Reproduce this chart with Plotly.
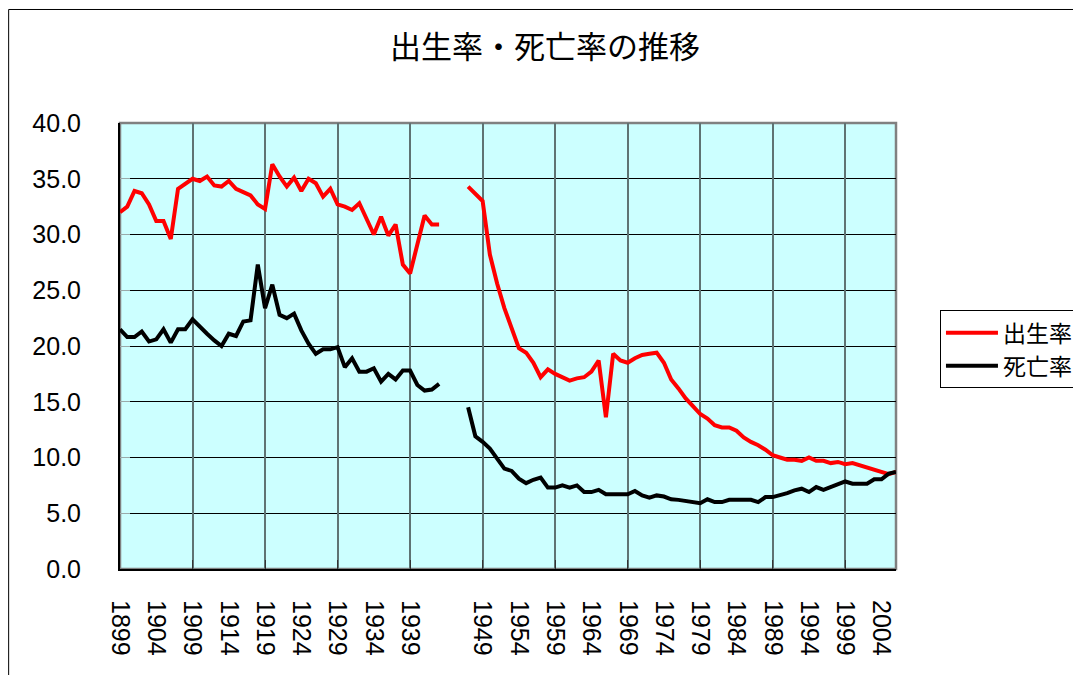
import plotly.graph_objects as go

years = list(range(1899, 2007))

birth_rate = [
    32.0, 32.5, 33.9, 33.7, 32.7, 31.2, 31.2, 29.6, 34.1, 34.6,   # 1899-1908
    35.0, 34.8, 35.2, 34.4, 34.3, 34.8, 34.1, 33.8, 33.5, 32.7,   # 1909-1918
    32.3, 36.3, 35.2, 34.3, 35.1, 33.9, 35.0, 34.6, 33.4, 34.1,   # 1919-1928
    32.7, 32.5, 32.2, 32.8, 31.4, 30.0, 31.6, 29.9, 30.9, 27.3,   # 1929-1938
    26.5, 29.1, 31.7, 30.9, 30.9, None, None, None, 34.3, 33.7,   # 1939-1948
    33.0, 28.2, 25.6, 23.4, 21.7, 19.8, 19.4, 18.5, 17.2, 17.9,   # 1949-1958
    17.5, 17.2, 16.9, 17.1, 17.2, 17.7, 18.7, 13.6, 19.3, 18.7,   # 1959-1968
    18.5, 18.9, 19.2, 19.3, 19.4, 18.5, 17.0, 16.2, 15.3, 14.6,   # 1969-1978
    13.9, 13.5, 12.9, 12.7, 12.7, 12.4, 11.8, 11.4, 11.1, 10.7,   # 1979-1988
    10.2, 10.0, 9.8, 9.8, 9.7, 10.0, 9.7, 9.7, 9.5, 9.6,          # 1989-1998
    9.4, 9.5, 9.3, 9.1, 8.9, 8.7, 8.5, 8.7,                        # 1999-2006
]

death_rate = [
    21.5, 20.8, 20.8, 21.3, 20.4, 20.6, 21.5, 20.3, 21.5, 21.5,   # 1899-1908
    22.4, 21.7, 21.1, 20.5, 20.0, 21.1, 20.9, 22.2, 22.3, 27.3,   # 1909-1918
    23.4, 25.5, 22.8, 22.5, 22.9, 21.4, 20.2, 19.3, 19.7, 19.7,   # 1919-1928
    19.9, 18.1, 18.9, 17.7, 17.7, 18.0, 16.8, 17.5, 17.0, 17.8,   # 1929-1938
    17.8, 16.5, 16.0, 16.1, 16.6, None, None, None, 14.5, 11.9,   # 1939-1948
    11.4, 10.8, 9.9, 9.0, 8.8, 8.1, 7.7, 8.0, 8.2, 7.3,           # 1949-1958
    7.3, 7.5, 7.3, 7.5, 6.9, 6.9, 7.1, 6.7, 6.7, 6.7,             # 1959-1968
    6.7, 7.0, 6.6, 6.4, 6.6, 6.5, 6.25, 6.2, 6.1, 6.0,            # 1969-1978
    5.9, 6.25, 6.0, 6.0, 6.2, 6.2, 6.2, 6.2, 6.0, 6.45,           # 1979-1988
    6.45, 6.6, 6.8, 7.05, 7.2, 6.9, 7.35, 7.1, 7.35, 7.6,         # 1989-1998
    7.85, 7.65, 7.65, 7.65, 8.05, 8.05, 8.55, 8.7,                # 1999-2006
]

label_years = [y for y in range(1899, 2005, 5) if y != 1944]
label_text = [str(y) for y in label_years]
grid_years = list(range(1899, 2007, 10))
y_ticks = [0, 5, 10, 15, 20, 25, 30, 35, 40]

series_names = ["出生率", "死亡率"]
title_text = "出生率・死亡率の推移"

fig = go.Figure()
fig.add_trace(go.Scatter(x=years, y=birth_rate, name=series_names[0], mode="lines",
                         line=dict(color="#FF0000", width=4), connectgaps=False))
fig.add_trace(go.Scatter(x=years, y=death_rate, name=series_names[1], mode="lines",
                         line=dict(color="#000000", width=4), connectgaps=False))
# invisible helper trace so the grid axis is drawn
fig.add_trace(go.Scatter(x=years, y=birth_rate, xaxis="x2", mode="lines",
                         line=dict(width=0), opacity=0, showlegend=False,
                         hoverinfo="skip"))

num_font = dict(family="Liberation Sans, Arial, sans-serif", size=25, color="#000000")

fig.update_layout(
    width=1081, height=675,
    margin=dict(l=112, r=192, t=115, b=114),
    paper_bgcolor="#FFFFFF",
    plot_bgcolor="#CCFFFF",
    title=dict(text=title_text, x=0.4968, xref="container", xanchor="center",
               y=0.942, yref="container", yanchor="middle",
               font=dict(family="Noto Sans CJK JP", size=31, color="#000000")),
    xaxis=dict(range=[1899, 2006], tickmode="array", tickvals=label_years,
               ticktext=label_text, tickangle=90, showgrid=False, zeroline=False,
               showline=True, linecolor="#000000", linewidth=2, ticks="",
               ticklabelstandoff=24, tickfont=num_font),
    xaxis2=dict(range=[1899, 2006], overlaying="x", side="bottom",
                tickmode="array", tickvals=grid_years, showticklabels=False,
                showgrid=True, gridcolor="#5F7373", gridwidth=1.5,
                ticks="inside", ticklen=9, tickcolor="#333333", zeroline=False,
                showline=False),
    yaxis=dict(range=[0, 40], tickmode="array", tickvals=y_ticks, tickformat=".1f",
               showgrid=True, gridcolor="#000000", gridwidth=1, zeroline=False,
               showline=True, linecolor="#000000", linewidth=2,
               ticks="inside", ticklen=10, tickcolor="#9AAAAA",
               ticklabelstandoff=32, tickfont=num_font),
    legend=dict(x=1.0553, xanchor="left", y=0.580, yanchor="top",
                bgcolor="#FFFFFF", bordercolor="#000000", borderwidth=1,
                font=dict(family="Noto Sans CJK JP", size=23, color="#000000"),
                itemwidth=52, tracegroupgap=0),
    shapes=[
        dict(type="rect", xref="paper", yref="paper", x0=0, x1=1, y0=0, y1=1,
             line=dict(color="#808080", width=2.5), layer="below"),
        dict(type="rect", xref="paper", yref="paper", x0=-0.1435, x1=1.4,
             y0=-0.4, y1=1.2545, line=dict(color="#000000", width=1),
             fillcolor="rgba(0,0,0,0)", layer="below"),
    ],
    showlegend=True,
)

fig.write_html("out.html")
